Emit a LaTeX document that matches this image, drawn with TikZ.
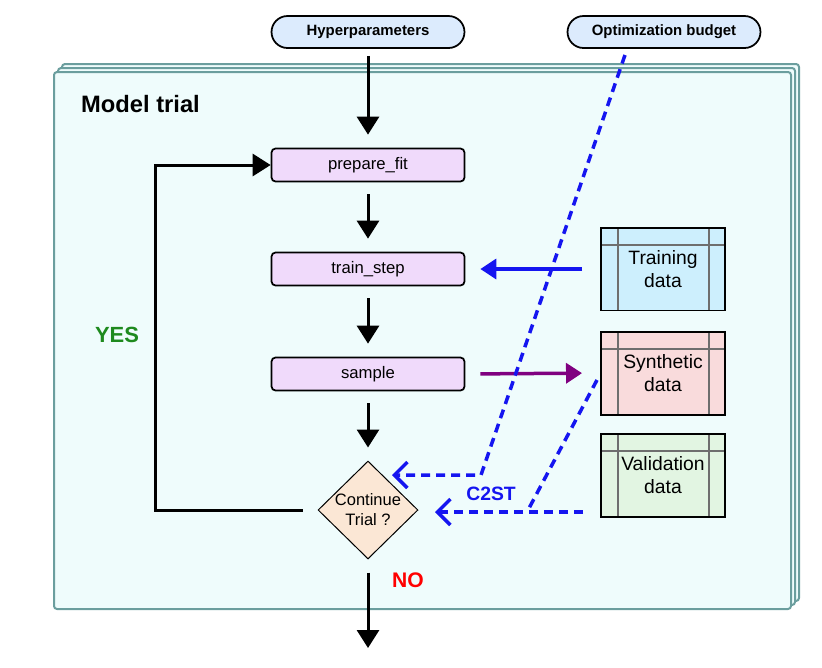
\documentclass[tikz,border=0pt]{standalone}
\usepackage{fontspec}
\setmainfont{Liberation Sans}
\usetikzlibrary{arrows.meta}
\usetikzlibrary{shapes.geometric}
\usetikzlibrary{positioning}
\definecolor{mframe}{HTML}{EFFCFC}
\definecolor{mteal}{HTML}{6B9E9E}
\definecolor{mpill}{HTML}{DCEBFD}
\definecolor{mstep}{HTML}{F0DAFB}
\definecolor{mpeach}{HTML}{FBE7D5}
\definecolor{mtrain}{HTML}{CDEFFD}
\definecolor{msynth}{HTML}{F9DBDC}
\definecolor{mvalid}{HTML}{E2F5E2}
\definecolor{mgrid}{HTML}{6E6E6E}
\definecolor{mgreen}{HTML}{1E8A1E}
\definecolor{mblue}{HTML}{1515F0}
\definecolor{mpurple}{HTML}{800080}
\tikzset{pill/.style = {draw, line width=0.035cm, fill=mpill, rounded corners=0.32cm,
                        minimum width=3.86cm, minimum height=0.64cm,
                        font=\fontsize{8.5}{10}\selectfont\bfseries}}
\tikzset{stepbox/.style = {draw, line width=0.035cm, fill=mstep, rounded corners=0.08cm,
                           minimum width=3.86cm, minimum height=0.66cm,
                           font=\fontsize{9.5}{11}\selectfont}}
\tikzset{decision/.style = {diamond, draw, line width=0.02cm, fill=mpeach,
                            minimum width=2cm, minimum height=1.96cm, inner sep=-2pt,
                            align=center, font=\fontsize{9.4}{11.3}\selectfont}}
\tikzset{databox/.style = {draw, line width=0.04cm, minimum width=2.48cm, minimum height=1.66cm,
                           inner sep=0pt, align=center, font=\fontsize{11}{13}\selectfont,
                           path picture={
                             \draw [mgrid, line width=0.04cm]
                               ([xshift=0.34cm]path picture bounding box.north west) --
                               ([xshift=0.34cm]path picture bounding box.south west)
                               ([xshift=-0.32cm]path picture bounding box.north east) --
                               ([xshift=-0.32cm]path picture bounding box.south east)
                               ([yshift=-0.34cm]path picture bounding box.north west) --
                               ([yshift=-0.34cm]path picture bounding box.north east);}}}
\tikzset{flow/.style = {line width=0.06cm, -{Triangle[length=0.36cm, width=0.44cm]}}}
\tikzset{feed/.style = {line width=0.07cm, -{Triangle[length=0.32cm, width=0.40cm]}}}
\tikzset{budget/.style = {mblue, line width=0.07cm, dash pattern=on 0.18cm off 0.12cm}}
\tikzset{budgettip/.style = {budget, -{Straight Barb[length=0.26cm, width=0.52cm, line width=0.07cm]}}}

\begin{document}
\begin{tikzpicture}[x=0.02cm, y=-0.02cm]
    \useasboundingbox (0, 0) rectangle (822, 667);

    \draw [mteal, line width=0.04cm, fill=mframe, rounded corners=0.06cm] (62, 64) rectangle (799, 601);
    \draw [mteal, line width=0.04cm, fill=mframe, rounded corners=0.06cm] (58, 68) rectangle (795, 605);
    \draw [mteal, line width=0.04cm, fill=mframe, rounded corners=0.06cm] (54, 72) rectangle (791, 609);

    \node [anchor=west, font=\fontsize{13.5}{16}\selectfont\bfseries] (trial) at (75, 104) {Model trial};

    \node [pill] (hyp) at (368, 32) {Hyperparameters};
    \node [pill] (budg) at (664, 32) {Optimization budget};

    \node [stepbox] (fit) at (368, 165) {prepare\_fit};
    \node [stepbox] (step) at (368, 269) {train\_step};
    \node [stepbox] (smp) at (368, 374) {sample};
    \node [decision] (cont) at (368, 510) {Continue\\Trial ?};

    \node [databox, fill=mtrain] (train) at (663, 269) {Training\\data};
    \node [databox, fill=msynth] (synth) at (663, 373) {Synthetic\\data};
    \node [databox, fill=mvalid] (valid) at (663, 475) {Validation\\data};

    \coordinate (out) at (368, 648);
    \coordinate (loop) at (155, 510);
    \coordinate (budgfoot) at (625, 55);
    \coordinate (budgbend) at (481, 475);
    \coordinate (budgtip) at (392, 475);
    \coordinate (synthfoot) at (597, 380);
    \coordinate (validbend) at (527, 512);
    \coordinate (validfoot) at (583, 512);
    \coordinate (validtip) at (435, 512);

    \draw [flow, shorten <=0.14cm, shorten >=0.26cm] (hyp) -- (fit);
    \draw [flow, shorten <=0.24cm, shorten >=0.26cm] (fit) -- (step);
    \draw [flow, shorten <=0.24cm, shorten >=0.26cm] (step) -- (smp);
    \draw [flow, shorten <=0.24cm, shorten >=0.26cm] (smp) -- (cont);
    \draw [flow, shorten <=0.26cm] (cont) -- (out);
    \draw [flow, shorten <=0.3cm] (cont.west) -- (loop) |- (fit.west);

    \draw [feed, mblue, shorten <=0.36cm, shorten >=0.3cm] (train.west) -- (step.east);
    \draw [feed, mpurple, shorten <=0.3cm, shorten >=0.36cm] (smp.east) -- (synth.west);

    \draw [budgettip] (budgfoot) -- (budgbend) -- (budgtip);
    \draw [budget] (synthfoot) -- (validbend);
    \draw [budgettip] (validfoot) -- (validtip);

    \node [mgreen, font=\fontsize{12.5}{15}\selectfont\bfseries] (yes) at (117, 335) {YES};
    \node [red, font=\fontsize{12}{14}\selectfont\bfseries] (no) at (408, 580) {NO};
    \node [mblue, font=\fontsize{11}{13}\selectfont\bfseries] (c2st) at (491, 494) {C2ST};
  \end{tikzpicture}
\end{document}
